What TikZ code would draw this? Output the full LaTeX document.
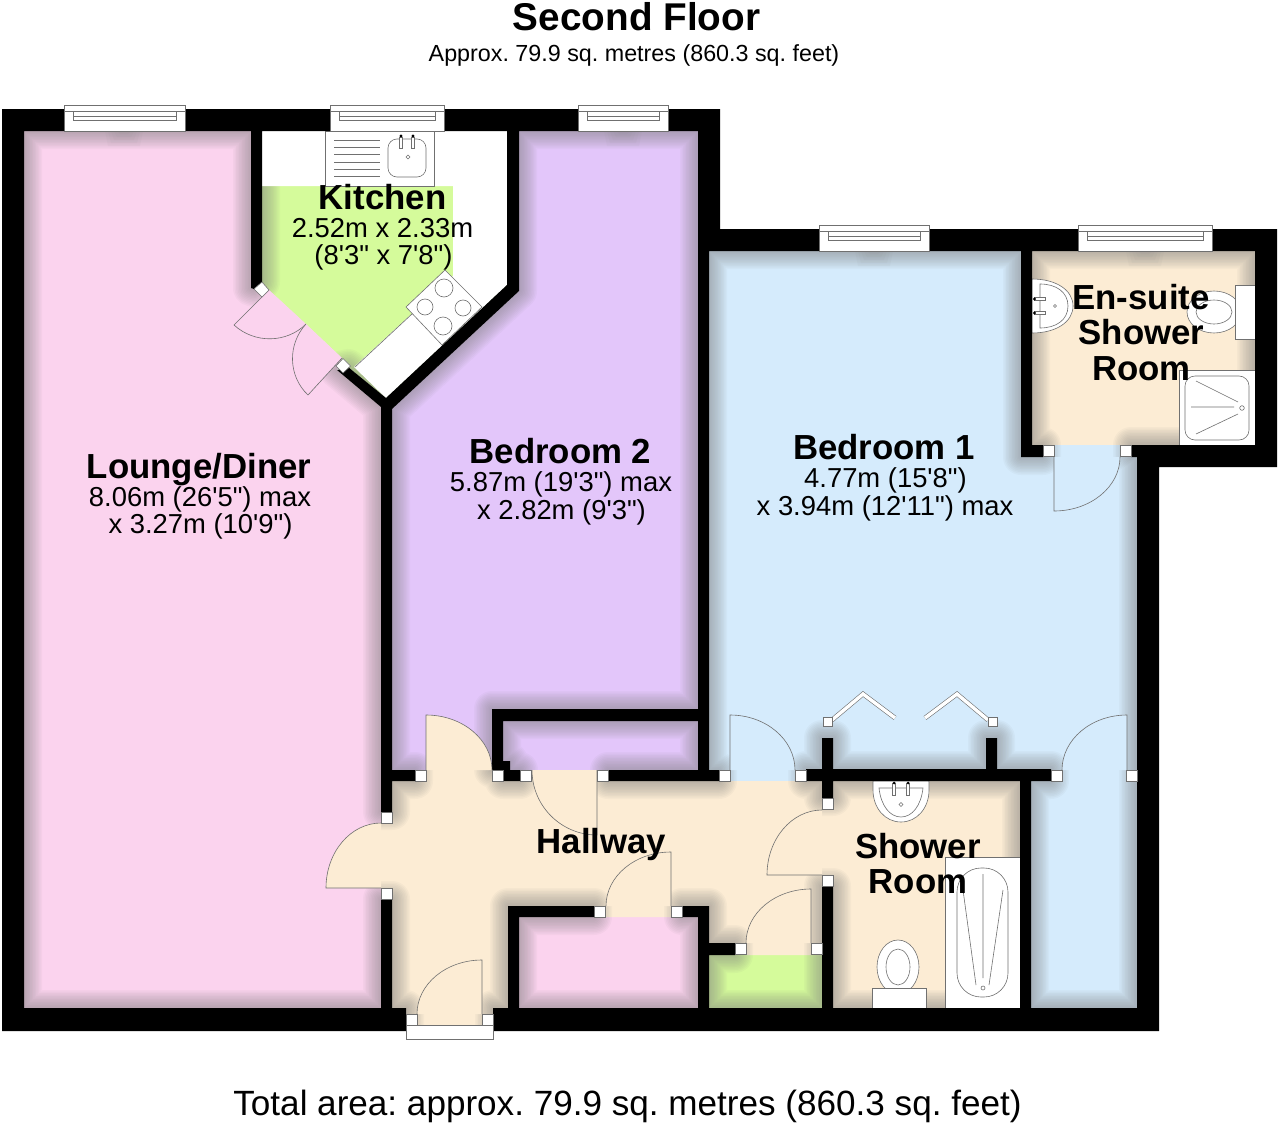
\documentclass[tikz,border=0pt]{standalone}
\usepackage{fontspec}
\newfontfamily\lib{Liberation Sans}
\frenchspacing
\definecolor{pinkroom}{HTML}{FBD3EE}
\definecolor{purproom}{HTML}{E3C6FA}
\definecolor{blueroom}{HTML}{D5EBFC}
\definecolor{begroom}{HTML}{FCECD4}
\definecolor{grnroom}{HTML}{D5FB9B}
\definecolor{fixline}{HTML}{707070}
\definecolor{shadeink}{HTML}{808080}
\tikzset{
  roomtitle/.style={anchor=base,inner sep=0pt,font=\lib\bfseries\fontsize{34.8}{34.8}\selectfont},
  roomsize/.style={anchor=base,inner sep=0pt,font=\lib\fontsize{27.4}{27.4}\selectfont},
  fix/.style={draw=fixline,line width=.6pt,fill=white},
  fixl/.style={draw=fixline,line width=.6pt},
}
% room outlines
\newcommand\lounge{(24,131)--(251,131)--(251,288)--(254,289)--(269,290)--(342,358)--(337,370)--(381,407)--(381,1008)--(24,1008)--cycle}
\newcommand\bedtwo{(519,131)--(698,131)--(698,709)--(492,709)--(492,770)--(392,770)--(392,409)--(519,291)--cycle (503,721) rectangle (698,770)}
\newcommand\bedone{(709,251)--(1021,251)--(1021,457)--(1137,457)--(1137,1008)--(1031,1008)--(1031,781)--(806,781)--(730,781)--(709,781)--cycle (1054,445) rectangle (1120,457)}
\newcommand\ensuite{(1032,251) rectangle (1255,445)}
\newcommand\hallroom{(392,781)--(822,781)--(822,955)--(746,955)--(746,943)--(709,943)--(709,906)--(508,906)--(508,1008)--(493,1008)--(493,1025)--(406,1025)--(406,1008)--(392,1008)--cycle (532,770) rectangle (597,781) (426,770) rectangle (492,781) (381,823) rectangle (392,888) (606,906) rectangle (671,917) (822,798) rectangle (833,886)}
\newcommand\showerroom{(833,781) rectangle (1020,1008)}
\newcommand\cupboard{(519,917) rectangle (698,1008)}
\newcommand\closet{(709,955) rectangle (822,1008)}
\newcommand\kitchenroom{(262,131)--(507,131)--(507,285)--(386,398)--(348,367)--(342,358)--(269,290)--(262,282)--cycle}
% walls
\newcommand\wallset{
  (2,109) rectangle (64,131) (185,109) rectangle (330,131) (444,109) rectangle (578,131) (668,109) rectangle (720,131)
  (2,109) rectangle (24,1031)
  (2,1008) rectangle (406,1031) (493,1008) rectangle (1159,1031)
  (251,131)--(262,131)--(262,282)--(254,289)--(251,288)--cycle
  (337,370)--(381,407)--(381,408)--(392,409)--(519,291)--(519,131)--(507,131)--(507,285)--(386,398)--(348,367)--cycle
  (381,407) rectangle (392,812) (381,899) rectangle (392,1008)
  (698,131) rectangle (720,229) (698,229) rectangle (709,781)
  (709,229) rectangle (819,251) (929,229) rectangle (1078,251) (1212,229) rectangle (1277,251)
  (1255,229) rectangle (1277,467) (1137,445) rectangle (1277,467) (1131,445) rectangle (1137,457) (1021,251) rectangle (1032,457) (1032,445) rectangle (1043,457)
  (1137,445) rectangle (1159,1031)
  (492,709) rectangle (709,721) (492,709) rectangle (503,770) (503,761) rectangle (510,770)
  (392,770) rectangle (415,781) (503,770) rectangle (520,781) (608,770) rectangle (719,781)
  (806,769) rectangle (1051,781) (822,738) rectangle (833,798) (986,738) rectangle (997,770)
  (822,886) rectangle (833,1008) (1020,781) rectangle (1031,1008)
  (508,906) rectangle (594,917) (682,906) rectangle (709,917) (508,906) rectangle (519,1008) (698,906) rectangle (709,1008)
  (709,943) rectangle (735,955)
}
% door: colour, hinge x,y, leaf end x,y, swing end x,y
\newcommand\doorleaf[7]{%
  \pgfmathsetmacro\cax{#4+.5523*(#6-#2)}\pgfmathsetmacro\cay{#5+.5523*(#7-#3)}%
  \pgfmathsetmacro\cbx{#6+.5523*(#4-#2)}\pgfmathsetmacro\cby{#7+.5523*(#5-#3)}%
  \fill[#1] (#2,#3)--(#4,#5) .. controls (\cax,\cay) and (\cbx,\cby) .. (#6,#7)--cycle;
  \draw[fixl] (#2,#3)--(#4,#5) .. controls (\cax,\cay) and (\cbx,\cby) .. (#6,#7);
}
% window: x1, x2, top y
\newcommand\windowbox[3]{%
  \pgfmathsetmacro\wina{#1+9}\pgfmathsetmacro\winb{#2-9}\pgfmathsetmacro\winc{#3+26}%
  \pgfmathsetmacro\wind{#3+6}\pgfmathsetmacro\winf{#3+15.5}\pgfmathsetmacro\wing{#3+11}%
  \draw[fix] (#1,#3) rectangle (#2,\winc);
  \draw[fixl] (#1,\wind)--(#2,\wind) (\wina,\wind) rectangle (\winb,\winf) (\wina,\wing)--(\winb,\wing);
  \draw[fixline,line width=1pt] (\wina,\wind)--(\wina,\winf) (\winb,\wind)--(\winb,\winf);
}
% small darker patch under a window: centre x, wall face y
\newcommand\sillpatch[2]{%
  \foreach \pw/\pd in {16/15,13/12,10/9,7/6,4/3}{
    \fill[shadeink,opacity=.05] (#1-\pw-3,#2)--(#1+\pw+3,#2)--(#1+\pw,#2+\pd)--(#1-\pw,#2+\pd)--cycle;
  }
}
\newcommand\jamb[2]{%
  \draw[fix] (#1-5.6,#2-5.6) rectangle (#1+5.6,#2+5.6);
}
\begin{document}
\begin{tikzpicture}[x=1pt,y=-1pt]
\useasboundingbox (0,0) rectangle (1280,1124);
\fill[white] (0,0) rectangle (1280,1124);
% room colours
\fill[pinkroom] \lounge;
\fill[pinkroom] \cupboard;
\fill[purproom] \bedtwo;
\fill[blueroom] \bedone;
\fill[begroom] \ensuite;
\fill[begroom] \showerroom;
\fill[grnroom] \kitchenroom;
\fill[grnroom] \closet;
\fill[begroom] \hallroom;
% soft shadow thrown by the walls
\begin{scope}
\clip \lounge \cupboard \bedtwo \bedone \ensuite \showerroom \kitchenroom \closet \hallroom;
\foreach \w in {3,6,9,12,15,18,21,24,27,30,33,36}{
  \draw[shadeink,opacity=.055,line width=\w pt,line join=round] \wallset (64,109) rectangle (185,131) (578,109) rectangle (668,131) (819,229) rectangle (929,251) (1078,229) rectangle (1212,251);
}
\end{scope}
\sillpatch{124}{131}
\sillpatch{623}{131}
\sillpatch{874}{251}
\sillpatch{1145}{251}
% kitchen units
\fill[white] (262,131)--(507,131)--(507,285)--(386,398)--(354,367)--(453,276)--(453,186)--(262,186)--cycle;
\draw[fixl] (413,313)--(355,367);
\draw[fix] (325,131.5) rectangle (434,186);
\foreach \dy in {140,147,154,162,169,176}{\draw[fixl] (334,\dy)--(380,\dy);}
\draw[fix,rounded corners=9pt] (388,139) rectangle (426,177);
\draw[fix] (399.5,137) rectangle (402.5,148) (411.5,137) rectangle (414.5,148);
\fill[black] (401,136) circle (1.7) (413,136) circle (1.7);
\draw[fixl] (408,155)--(410,157)--(408,159)--(406,157)--cycle;
\draw[fix] (445,270)--(482,307)--(442,345)--(406,307)--cycle;
\draw[fixl] (444,288) circle (9) (425,307) circle (8) (463,308) circle (8) (443,326) circle (9);
% en-suite fittings
\draw[fix] (1032,279) .. controls (1056,279) and (1073,290) .. (1073,306) .. controls (1073,322) and (1056,333) .. (1032,333)--cycle;
\draw[fixl] (1040,284) .. controls (1056,284) and (1068,292) .. (1068,306) .. controls (1068,320) and (1056,328) .. (1040,328)--cycle;
\draw[fix] (1034,297.5) rectangle (1045,300.5) (1034,311.5) rectangle (1045,314.5);
\fill[black] (1034.5,299) circle (1.7) (1034.5,313) circle (1.7);
\draw[fixl] (1055,306) circle (1.5);
\draw[fix] (1214,312) ellipse (27 and 21);
\draw[fixl] (1214,312) ellipse (18 and 12);
\draw[fix] (1235,285) rectangle (1255,339);
\fill[white] (1179,370) rectangle (1255,445);
\draw[fixl] (1179,445)--(1179,370)--(1255,370);
\draw[fix,rounded corners=10pt] (1185,376) rectangle (1249,440);
\draw[fixl] (1196,381)--(1238,402) (1191,407)--(1234,407) (1196,434)--(1238,414);
\draw[fixl] (1242,408) circle (2.3);
% shower room fittings
\draw[fix] (873,781)--(873,790) .. controls (873,808) and (885,822) .. (901,822) .. controls (917,822) and (929,808) .. (929,790)--(929,781)--cycle;
\draw[fixl] (879,788) .. controls (881,806) and (890,817) .. (901,817) .. controls (912,817) and (921,806) .. (923,788)--cycle;
\draw[fix] (892.5,783) rectangle (895.5,795) (906.5,783) rectangle (909.5,795);
\fill[black] (894,783) circle (1.5) (908,783) circle (1.5);
\draw[fixl] (901,802.5)--(903,804.5)--(901,806.5)--(899,804.5)--cycle;
\draw[fix] (898,967) ellipse (21 and 27);
\draw[fixl] (898,967) ellipse (12 and 18);
\draw[fix] (872,988) rectangle (926,1008);
\fill[white] (945,857) rectangle (1020,1008);
\draw[fixl] (945,1008)--(945,857)--(1020,857);
\draw[fix,rounded corners=24pt] (957,868) rectangle (1008,997);
\draw[fixl] (983,874)--(983,978) (963,890)--(976,985) (1003,890)--(989,985);
\draw[fixl] (983,988) circle (2);
% walls
\fill[black] \wallset;
% threshold at the entrance
\draw[fix] (406,1025) rectangle (493,1039);
% doors
\doorleaf{pinkroom}{269}{290}{234}{325}{306}{324}
\doorleaf{pinkroom}{342}{358}{308}{395}{306}{324}
\doorleaf{begroom}{426}{770}{426}{715}{492}{770}
\doorleaf{begroom}{381}{888}{326}{888}{381}{823}
\doorleaf{begroom}{482}{1014}{482}{960}{417}{1014}
\doorleaf{begroom}{597}{770}{597}{835}{532}{770}
\doorleaf{begroom}{671}{906}{671}{852}{606}{906}
\doorleaf{begroom}{811}{943}{811}{889}{746}{943}
\doorleaf{begroom}{822}{875}{767}{875}{822}{810}
\doorleaf{blueroom}{730}{770}{730}{715}{795}{770}
\doorleaf{blueroom}{1127}{770}{1127}{715}{1062}{770}
\doorleaf{blueroom}{1054}{457}{1054}{511}{1120}{457}
% bifold doors
\foreach \bx/\by/\cx/\cy/\dx/\dy in {832/720/863/694/895/718, 925/718/957/694/988/720}{
  \draw[fixline,line width=4.6pt,miter limit=4] (\bx,\by)--(\cx,\cy)--(\dx,\dy);
  \draw[white,line width=3.4pt,miter limit=4] (\bx,\by)--(\cx,\cy)--(\dx,\dy);
}
\draw[fix] (823,717) rectangle (832,726) (988.5,717) rectangle (997.5,726);
% door jambs
\foreach \jx/\jy in {420.5/775.5,497.5/775.5,526/775.5,602.5/775.5,724.5/775.5,800.5/775.5,1056.5/775.5,1132/775.5,
  386.5/817.5,386.5/893.5,411.5/1019.5,487.5/1019.5,599.5/911.5,676.5/911.5,740.5/949,816.5/949,827.5/804,827.5/880.5,1048.5/451,1125.5/451}{
  \jamb{\jx}{\jy}
}
\draw[fix] (254,289)--(262,282)--(269,290)--(262,297)--cycle;
\draw[fix] (336,366)--(343,358.5)--(350.5,366)--(343,373)--cycle;
% windows
\windowbox{64}{185}{105}
\windowbox{330}{444}{105}
\windowbox{578}{668}{105}
\windowbox{819}{929}{225}
\windowbox{1078}{1212}{225}
% texts
\node[anchor=base,inner sep=0pt,font=\lib\bfseries\fontsize{38.7}{38.7}\selectfont] (title) at (636.5,31) {Second Floor};
\node[anchor=base,inner sep=0pt,font=\lib\fontsize{23.3}{23.3}\selectfont] (subtitle) at (634,62) {Approx. 79.9 sq. metres (860.3 sq. feet)};
\node[anchor=base,inner sep=0pt,font=\lib\fontsize{35.1}{35.1}\selectfont] (total) at (627.5,1115) {Total area: approx. 79.9 sq. metres (860.3 sq. feet)};
\node[roomtitle] (loungeA) at (199,478) {Lounge/Diner};
\node[roomsize] (loungeB) at (200,506) {8.06m (26'5") max};
\node[roomsize] (loungeC) at (200.5,533) {x 3.27m (10'9")};
\node[roomtitle] (kitchenA) at (382.5,209) {Kitchen};
\node[roomsize] (kitchenB) at (382.5,237) {2.52m x 2.33m};
\node[roomsize] (kitchenC) at (383.5,264) {(8'3" x 7'8")};
\node[roomtitle] (bedtwoA) at (560.5,463) {Bedroom 2};
\node[roomsize] (bedtwoB) at (561,491) {5.87m (19'3") max};
\node[roomsize] (bedtwoC) at (561.5,519) {x 2.82m (9'3")};
\node[roomtitle] (bedoneA) at (884,459) {Bedroom 1};
\node[roomsize] (bedoneB) at (885.5,487) {4.77m (15'8")};
\node[roomsize] (bedoneC) at (885,515) {x 3.94m (12'11") max};
\node[roomtitle] (ensA) at (1141,309) {En-suite};
\node[roomtitle] (ensB) at (1141.5,344) {Shower};
\node[roomtitle] (ensC) at (1141.5,380) {Room};
\node[roomtitle] (hallA) at (601.5,853) {Hallway};
\node[roomtitle] (showA) at (918,858) {Shower};
\node[roomtitle] (showB) at (918,893) {Room};
\end{tikzpicture}
\end{document}
